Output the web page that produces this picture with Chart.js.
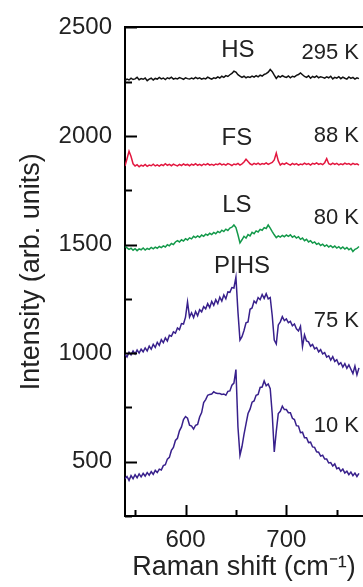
<!DOCTYPE html>
<html>
<head>
<meta charset="utf-8">
<script src="https://cdn.jsdelivr.net/npm/chart.js@4.4.1/dist/chart.umd.min.js"></script>
<style>
  html, body { margin: 0; padding: 0; background: #fff; }
  #wrap { width: 363px; height: 587px; }
</style>
</head>
<body>
<div id="wrap"><canvas id="ramanChart" width="363" height="587"></canvas></div>
<script>
// Raman shift (cm-1), shared by all spectra
const shift = [
  540, 542, 544, 546, 548, 550, 552, 554, 556, 558, 560, 562, 564, 566, 568, 570, 572, 574, 576, 578,
  580, 582, 584, 586, 588, 590, 592, 594, 596, 598, 600, 602, 604, 606, 608, 610, 612, 614, 616, 618,
  620, 622, 624, 626, 628, 630, 632, 634, 636, 638, 640, 642, 644, 646, 648, 650, 652, 654, 656, 658,
  660, 662, 664, 666, 668, 670, 672, 674, 676, 678, 680, 682, 684, 686, 688, 690, 692, 694, 696, 698,
  700, 702, 704, 706, 708, 710, 712, 714, 716, 718, 720, 722, 724, 726, 728, 730, 732, 734, 736, 738,
  740, 742, 744, 746, 748, 750, 752, 754, 756, 758, 760, 762, 764, 766, 768, 770, 772
];

// HS, 295 K
const hs295 = [
  2256, 2262, 2258, 2266, 2260, 2263, 2270, 2259, 2264, 2261, 2267, 2255, 2262, 2266, 2258, 2265, 2262, 2270, 2263, 2267,
  2260, 2268, 2264, 2271, 2262, 2266, 2263, 2269, 2265, 2261, 2268, 2264, 2262, 2267, 2263, 2270, 2264, 2268, 2262, 2266,
  2263, 2271, 2266, 2262, 2268, 2265, 2272, 2267, 2275, 2270, 2278, 2274, 2282, 2288, 2298, 2294, 2282, 2276, 2270, 2275,
  2268, 2273, 2270, 2276, 2271, 2278, 2272, 2280, 2276, 2283, 2287, 2294, 2306, 2296, 2280, 2265, 2276, 2271, 2278, 2273,
  2270, 2276, 2268, 2275, 2272, 2279, 2283, 2290, 2282, 2274, 2270, 2277, 2266, 2274, 2270, 2276, 2268, 2273, 2270, 2266,
  2272, 2268, 2275, 2263, 2270, 2266, 2273, 2264, 2271, 2266, 2262, 2272, 2265, 2270, 2262, 2268, 2264
];

// FS, 88 K
const fs88 = [
  1862, 1895, 1930, 1905, 1872, 1862, 1868, 1858, 1866, 1861, 1869, 1860, 1866, 1863, 1870, 1862, 1867, 1861, 1868, 1864,
  1872, 1865, 1869, 1863, 1870, 1866, 1862, 1869, 1864, 1871, 1866, 1869, 1863, 1870, 1866, 1872, 1865, 1869, 1864, 1871,
  1867, 1873, 1866, 1870, 1865, 1871, 1868, 1874, 1867, 1871, 1866, 1873, 1869, 1864, 1871, 1868, 1874, 1866, 1872, 1880,
  1893, 1882, 1872, 1867, 1874, 1869, 1875, 1868, 1873, 1870, 1876, 1869, 1874, 1878, 1890, 1921, 1885, 1866, 1874, 1869,
  1876, 1870, 1866, 1874, 1868, 1873, 1866, 1871, 1868, 1875, 1869, 1873, 1866, 1874, 1870, 1876, 1869, 1873, 1868, 1877,
  1896, 1872, 1868, 1875, 1869, 1874, 1867, 1872, 1868, 1875, 1870, 1873, 1867, 1874, 1869, 1872, 1866
];

// LS, 80 K
const ls80 = [
  1492, 1485, 1478, 1483, 1474, 1481, 1472, 1480, 1476, 1484, 1475, 1482, 1478, 1487, 1480, 1488, 1483, 1491, 1486, 1494,
  1489, 1499, 1494, 1505, 1500, 1512, 1518, 1512, 1522, 1516, 1527, 1521, 1531, 1526, 1538, 1532, 1540, 1534, 1544, 1538,
  1548, 1543, 1552, 1546, 1556, 1550, 1560, 1555, 1566, 1560, 1571, 1565, 1576, 1580, 1590, 1578, 1545, 1508, 1522, 1538,
  1530, 1546, 1540, 1556, 1550, 1563, 1558, 1570, 1566, 1578, 1574, 1590, 1576, 1560, 1545, 1532, 1540, 1534, 1542, 1536,
  1544, 1538, 1545, 1534, 1540, 1530, 1536, 1524, 1530, 1518, 1524, 1512, 1518, 1507, 1512, 1501, 1506, 1496, 1502, 1492,
  1498, 1489, 1495, 1486, 1493, 1484, 1490, 1481, 1489, 1479, 1486, 1476, 1483, 1468, 1478, 1482, 1491
];

// PIHS, 75 K
const pihs75 = [
  995, 982, 1004, 992, 1010, 996, 1014, 1000, 1018, 1006, 1024, 1010, 1032, 1018, 1040, 1026, 1050, 1036, 1062, 1048,
  1070, 1056, 1082, 1078, 1098, 1092, 1116, 1108, 1136, 1134, 1166, 1236, 1166, 1186, 1164, 1192, 1172, 1200, 1190, 1214,
  1204, 1228, 1210, 1238, 1220, 1246, 1228, 1258, 1240, 1268, 1250, 1282, 1280, 1302, 1300, 1350, 1190, 1060, 1076, 1104,
  1140, 1144, 1202, 1208, 1240, 1230, 1256, 1246, 1270, 1252, 1274, 1250, 1256, 1172, 1060, 1042, 1130, 1144, 1168, 1150,
  1158, 1140, 1146, 1126, 1134, 1112, 1102, 1124, 1030, 1084, 1056, 1052, 1032, 1040, 1020, 1026, 1006, 1016, 996, 1002,
  982, 988, 968, 984, 962, 970, 948, 956, 936, 952, 930, 946, 926, 906, 940, 900, 932
];

// 10 K
const k10 = [
  422, 432, 414, 436, 422, 440, 426, 444, 430, 446, 434, 450, 438, 454, 442, 460, 450, 466, 462, 482,
  486, 512, 520, 552, 566, 598, 608, 642, 660, 694, 708, 700, 668, 664, 650, 668, 672, 706, 726, 772,
  786, 806, 810, 812, 822, 816, 814, 814, 810, 812, 806, 824, 826, 852, 862, 924, 660, 530, 570, 626,
  674, 722, 742, 774, 780, 806, 810, 842, 844, 872, 850, 858, 836, 720, 545, 640, 722, 732, 756, 740,
  740, 726, 726, 700, 694, 666, 664, 634, 636, 610, 610, 588, 590, 568, 566, 546, 544, 526, 530, 512,
  512, 494, 496, 480, 490, 468, 472, 456, 466, 448, 456, 440, 452, 436, 448, 432, 446
];

const xTicks = [550, 600, 650, 700, 750];
const yTicks = [250, 500, 750, 1000, 1250, 1500, 1750, 2000, 2250, 2500];

// text placed on the plot (state names and temperatures)
const stateNames = ['HS', 'FS', 'LS', 'PIHS'];
const stateSpots = [[652, 2396], [651, 1989], [651, 1681], [656, 1400]];
const tempNames = ['295 K', '88 K', '80 K', '75 K', '10 K'];
const tempSpots = [2382, 1998, 1622, 1147, 663];

const FONT = '"Liberation Sans", Arial, Helvetica, sans-serif';
const TEXT = '#222';

function toPoints(ys) {
  return ys.map((y, i) => ({ x: shift[i], y: y }));
}

function series(ys, color) {
  return {
    data: toPoints(ys),
    borderColor: color,
    borderWidth: 1.5,
    pointRadius: 0,
    tension: 0,
    fill: false
  };
}

// ticks in this plot point into the frame
const innerTicks = {
  id: 'innerTicks',
  afterDraw(chart) {
    const { ctx, chartArea, scales } = chart;
    ctx.save();
    ctx.strokeStyle = '#000';
    ctx.lineWidth = 2;
    xTicks.forEach(v => {
      const px = Math.round(scales.x.getPixelForValue(v)) + 0.5;
      const len = v % 100 === 0 ? 11 : 6;
      ctx.beginPath();
      ctx.moveTo(px, chartArea.bottom);
      ctx.lineTo(px, chartArea.bottom - len);
      ctx.stroke();
    });
    yTicks.forEach(v => {
      const py = Math.round(scales.y.getPixelForValue(v)) + 0.5;
      const len = v % 500 === 0 ? 12 : 7;
      ctx.beginPath();
      ctx.moveTo(chartArea.left, py);
      ctx.lineTo(chartArea.left + len, py);
      ctx.stroke();
    });
    ctx.restore();
  }
};

const plotText = {
  id: 'plotText',
  afterDatasetsDraw(chart) {
    const { ctx, scales } = chart;
    ctx.save();
    ctx.fillStyle = TEXT;
    ctx.textBaseline = 'middle';
    ctx.font = '24px ' + FONT;
    ctx.textAlign = 'center';
    stateNames.forEach((name, i) => {
      ctx.fillText(name, scales.x.getPixelForValue(stateSpots[i][0]), scales.y.getPixelForValue(stateSpots[i][1]));
    });
    ctx.font = '22px ' + FONT;
    ctx.textAlign = 'right';
    tempNames.forEach((name, i) => {
      ctx.fillText(name, scales.x.getPixelForValue(772), scales.y.getPixelForValue(tempSpots[i]));
    });
    ctx.restore();
  }
};

const ctx = document.getElementById('ramanChart').getContext('2d');
new Chart(ctx, {
  type: 'line',
  data: {
    datasets: [
      series(hs295, '#111111'),
      series(fs88, '#e3173f'),
      series(ls80, '#13994a'),
      series(pihs75, '#38208c'),
      series(k10, '#38208c')
    ]
  },
  options: {
    responsive: false,
    animation: false,
    layout: { padding: { top: 19, right: 0, bottom: 0, left: 0 } },
    plugins: {
      legend: { display: false },
      tooltip: { enabled: false }
    },
    scales: {
      x: {
        type: 'linear',
        min: 540,
        max: 776,
        afterBuildTicks: s => { s.ticks = xTicks.map(v => ({ value: v })); },
        afterFit: s => { s.height = 71; },
        grid: { drawOnChartArea: false, drawTicks: false },
        border: { color: '#000', width: 2 },
        ticks: {
          padding: 10,
          color: TEXT,
          font: { family: FONT, size: 24 },
          callback: v => (v % 100 === 0 ? String(v) : '')
        },
        title: {
          display: true,
          text: 'Raman shift (cm⁻¹)',
          color: TEXT,
          font: { family: FONT, size: 27, lineHeight: 1 },
          padding: { top: 0, bottom: 6 }
        }
      },
      xTop: {
        type: 'linear',
        position: 'top',
        min: 540,
        max: 776,
        afterFit: s => { s.height = 0; },
        grid: { drawOnChartArea: false, drawTicks: false },
        border: { color: '#000', width: 2 },
        ticks: { display: false }
      },
      y: {
        min: 250,
        max: 2500,
        afterBuildTicks: s => { s.ticks = yTicks.map(v => ({ value: v })); },
        afterFit: s => { s.width = 125; },
        grid: { drawOnChartArea: false, drawTicks: false },
        border: { color: '#000', width: 2 },
        ticks: {
          padding: 13,
          color: TEXT,
          font: { family: FONT, size: 24 },
          callback: v => (v % 500 === 0 ? String(v) : '')
        },
        title: {
          display: true,
          text: 'Intensity (arb. units)',
          color: TEXT,
          font: { family: FONT, size: 27, lineHeight: 1 },
          padding: { top: 18, bottom: 0 }
        }
      }
    }
  },
  plugins: [innerTicks, plotText]
});
</script>
</body>
</html>
